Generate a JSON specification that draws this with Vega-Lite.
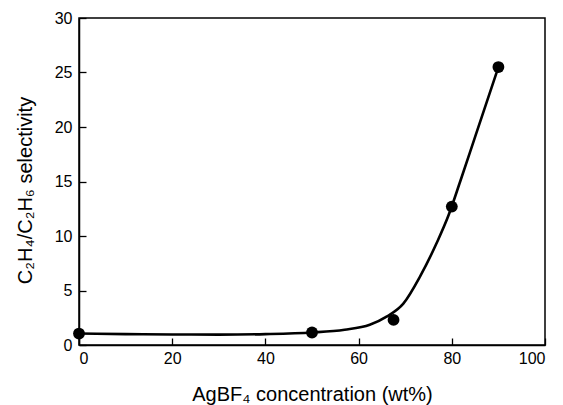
{
  "$schema": "https://vega.github.io/schema/vega-lite/v6.json",
  "width": 466,
  "height": 327,
  "autosize": {"type": "none"},
  "padding": {"left": 79, "top": 18, "right": 18, "bottom": 60},
  "background": "white",
  "config": {
    "view": {"stroke": "black", "strokeWidth": 1.5},
    "font": "Liberation Sans",
    "axis": {
      "grid": false,
      "domainColor": "black",
      "domainWidth": 1.5,
      "tickColor": "black",
      "tickWidth": 1.3,
      "tickSize": -7,
      "labelFont": "Liberation Sans",
      "labelFontSize": 16,
      "labelColor": "black",
      "titleFont": "Liberation Sans",
      "titleFontSize": 19,
      "titleFontWeight": "normal",
      "titleColor": "black"
    }
  },
  "datasets": {
    "curve": [
      {"x": 0, "y": 1.05},
      {"x": 10, "y": 1.0},
      {"x": 20, "y": 0.97},
      {"x": 30, "y": 0.95},
      {"x": 40, "y": 1.0},
      {"x": 50, "y": 1.15},
      {"x": 57, "y": 1.4},
      {"x": 62.4, "y": 1.85},
      {"x": 66, "y": 2.6},
      {"x": 69.6, "y": 3.8},
      {"x": 73.2, "y": 6.3},
      {"x": 76.8, "y": 9.4},
      {"x": 79.3, "y": 11.9},
      {"x": 81.8, "y": 15.0},
      {"x": 85, "y": 19.1},
      {"x": 90, "y": 25.5}
    ],
    "points": [
      {"x": 0, "y": 1.05},
      {"x": 50, "y": 1.15},
      {"x": 67.5, "y": 2.3},
      {"x": 80, "y": 12.7},
      {"x": 90, "y": 25.5}
    ]
  },
  "layer": [
    {
      "data": {"name": "curve"},
      "mark": {"type": "line", "color": "black", "strokeWidth": 2.6, "interpolate": "monotone"},
      "encoding": {
        "x": {
          "field": "x", "type": "quantitative",
          "scale": {"domain": [0, 100], "nice": false},
          "axis": {"values": [0, 20, 40, 60, 80, 100], "labelPadding": 12, "title": "AgBF₄ concentration (wt%)", "titlePadding": 18, "titleFontSize": 20}
        },
        "y": {
          "field": "y", "type": "quantitative",
          "scale": {"domain": [0, 30], "nice": false},
          "axis": {"values": [0, 5, 10, 15, 20, 25, 30], "labelPadding": 14, "title": "C₂H₄/C₂H₆ selectivity", "titleY": 172, "titleX": -54, "titleBaseline": "middle", "titleAlign": "center", "titleAngle": -90, "titleFontSize": 20}
        }
      }
    },
    {
      "data": {"name": "points"},
      "mark": {"type": "point", "filled": true, "color": "black", "size": 140, "opacity": 1},
      "encoding": {
        "x": {"field": "x", "type": "quantitative"},
        "y": {"field": "y", "type": "quantitative"}
      }
    }
  ]
}
